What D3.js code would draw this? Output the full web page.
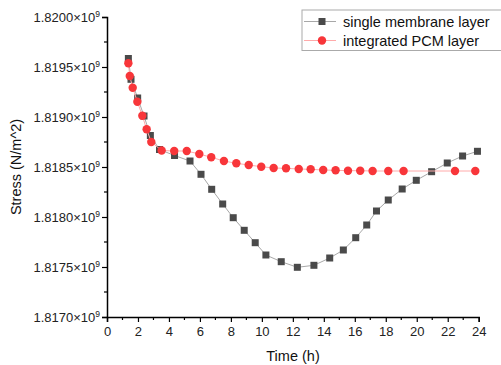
<!DOCTYPE html>
<html>
<head>
<meta charset="utf-8">
<script src="https://cdn.jsdelivr.net/npm/d3@7"></script>
<style>
  body { margin: 0; background: #fff; }
  svg { display: block; font-family: "Liberation Sans", Arial, sans-serif; }
</style>
</head>
<body>
<svg id="chart" width="501" height="365"></svg>
<script>
// Time (h) and stress (×1e9 N/m^2)
const singleTime = [1.38, 1.55, 1.98, 2.39, 2.80, 3.39, 4.36, 5.36, 6.07, 6.76, 7.47, 8.15, 8.86, 9.57, 10.26,
  11.25, 12.29, 13.36, 14.38, 15.26, 16.06, 16.77, 17.40, 18.16, 19.06, 19.97, 20.96, 21.97, 22.96, 23.92];
const singleStress = [1.819585, 1.819377, 1.81919, 1.81901, 1.818815, 1.818675, 1.818615, 1.81856, 1.818427, 1.818277,
  1.81813, 1.817993, 1.817867, 1.817743, 1.81762, 1.817553, 1.817497, 1.817517, 1.81759, 1.81767,
  1.817793, 1.81792, 1.81806, 1.81817, 1.81828, 1.818367, 1.818453, 1.81854, 1.81861, 1.818657];

const pcmTime = [1.38, 1.47, 1.66, 1.96, 2.28, 2.56, 2.86, 3.53, 4.34, 5.15, 5.96, 6.73, 7.55, 8.35, 9.15, 9.96,
  10.76, 11.56, 12.38, 13.15, 13.96, 14.76, 15.56, 16.35, 17.15, 18.16, 19.15, 22.47, 23.78];
const pcmStress = [1.819537, 1.81941, 1.819293, 1.819153, 1.819013, 1.818877, 1.81875, 1.818665, 1.81866, 1.81866,
  1.81863, 1.818597, 1.81856, 1.818537, 1.81852, 1.818503, 1.81849, 1.818487, 1.81848, 1.818477,
  1.81847, 1.818467, 1.818463, 1.818463, 1.81846, 1.81846, 1.81846, 1.81846, 1.81846];

const xTicks = [0, 2, 4, 6, 8, 10, 12, 14, 16, 18, 20, 22, 24];
const yTicks = [1.8170, 1.8175, 1.8180, 1.8185, 1.8190, 1.8195, 1.8200];
const seriesNames = ["single membrane layer", "integrated PCM layer"];

const svg = d3.select("#chart");
const x = d3.scaleLinear().domain([0, 24]).range([107, 478.7]);
const y = d3.scaleLinear().domain([1.8170, 1.8200]).range([317, 17]);

const axisColor = "#000";

// X axis
const xAxis = d3.axisBottom(x).tickValues(xTicks).tickSize(5).tickPadding(5).tickFormat(d3.format("d"));
const gx = svg.append("g").attr("transform", "translate(0,317)").call(xAxis);
gx.select(".domain").attr("stroke-width", 1.5);
gx.selectAll(".tick line").attr("stroke-width", 1.2);
gx.selectAll("text").attr("font-size", 13).attr("fill", "#222");
const xMinor = d3.range(1, 24, 2);
svg.append("g").selectAll("line").data(xMinor).join("line")
  .attr("x1", d => x(d)).attr("x2", d => x(d))
  .attr("y1", 317).attr("y2", 320)
  .attr("stroke", axisColor).attr("stroke-width", 1.2);

// Y axis
const yAxis = d3.axisLeft(y).tickValues(yTicks).tickSize(5).tickPadding(4).tickFormat("");
const gy = svg.append("g").attr("transform", "translate(107,0)").call(yAxis);
gy.select(".domain").attr("stroke-width", 1.5);
gy.selectAll(".tick line").attr("stroke-width", 1.2);
gy.selectAll(".tick").append("text")
  .attr("x", -7).attr("dy", "0.35em").attr("text-anchor", "end")
  .attr("font-size", 13).attr("fill", "#222")
  .each(function(d) {
    const t = d3.select(this);
    t.append("tspan").text(d.toFixed(4) + "×10");
    t.append("tspan").text("9").attr("font-size", 8.5).attr("dy", "-0.6em");
  });
const yMinor = d3.range(0, yTicks.length - 1).map(i => (yTicks[i] + yTicks[i + 1]) / 2);
svg.append("g").selectAll("line").data(yMinor).join("line")
  .attr("x1", 104).attr("x2", 107)
  .attr("y1", d => y(d)).attr("y2", d => y(d))
  .attr("stroke", axisColor).attr("stroke-width", 1.2);

// Axis titles
svg.append("text").attr("x", 293).attr("y", 361).attr("text-anchor", "middle")
  .attr("font-size", 14.5).attr("fill", "#111").text("Time (h)");
svg.append("text").attr("transform", "translate(21,167) rotate(-90)").attr("text-anchor", "middle")
  .attr("font-size", 14.5).attr("fill", "#111").text("Stress (N/m^2)");

// Series
const singleData = singleTime.map((t, i) => [t, singleStress[i]]);
const pcmData = pcmTime.map((t, i) => [t, pcmStress[i]]);
const line = d3.line().x(d => x(d[0])).y(d => y(d[1]));

svg.append("path").datum(singleData).attr("d", line)
  .attr("fill", "none").attr("stroke", "#a8a8a8").attr("stroke-width", 1);
svg.append("g").selectAll("rect").data(singleData).join("rect")
  .attr("x", d => x(d[0]) - 3.5).attr("y", d => y(d[1]) - 3.5)
  .attr("width", 7).attr("height", 7).attr("fill", "#4a4a4a");

svg.append("path").datum(pcmData).attr("d", line)
  .attr("fill", "none").attr("stroke", "#ffaaaa").attr("stroke-width", 1);
svg.append("g").selectAll("circle").data(pcmData).join("circle")
  .attr("cx", d => x(d[0])).attr("cy", d => y(d[1])).attr("r", 4.2)
  .attr("fill", "#f8363a");

// Legend
const lg = svg.append("g");
lg.append("rect").attr("x", 302).attr("y", 10).attr("width", 205).attr("height", 40.5)
  .attr("fill", "#fff").attr("stroke", "#aaa").attr("stroke-width", 1);
const rows = [
  { name: seriesNames[0], y: 21.5, line: "#a8a8a8", kind: "square" },
  { name: seriesNames[1], y: 40.5, line: "#ffaaaa", kind: "circle" }
];
rows.forEach(r => {
  lg.append("line").attr("x1", 304).attr("x2", 336).attr("y1", r.y).attr("y2", r.y)
    .attr("stroke", r.line).attr("stroke-width", 1);
  if (r.kind === "square") {
    lg.append("rect").attr("x", 318.5).attr("y", r.y - 3.5).attr("width", 7).attr("height", 7).attr("fill", "#4a4a4a");
  } else {
    lg.append("circle").attr("cx", 322).attr("cy", r.y).attr("r", 4.2).attr("fill", "#f8363a");
  }
  lg.append("text").attr("x", 343).attr("y", r.y).attr("dy", "0.35em")
    .attr("font-size", 14.5).attr("fill", "#111").text(r.name);
});
</script>
</body>
</html>
